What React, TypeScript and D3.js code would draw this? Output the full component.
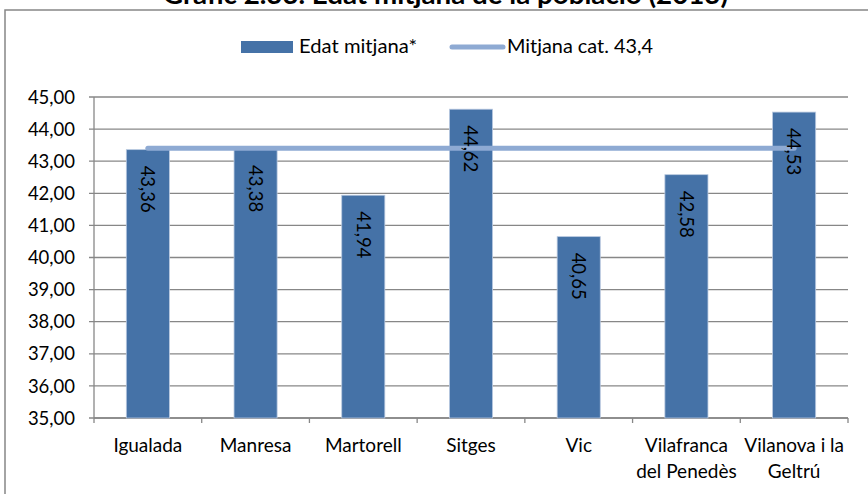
import React from "react";
import * as d3 from "d3";

const categories: string[][] = [
  ["Igualada"],
  ["Manresa"],
  ["Martorell"],
  ["Sitges"],
  ["Vic"],
  ["Vilafranca", "del Penedès"],
  ["Vilanova i la", "Geltrú"],
];
const values: number[] = [43.36, 43.38, 41.94, 44.62, 40.65, 42.58, 44.53];
const catAverage: number[] = [43.4, 43.4, 43.4, 43.4, 43.4, 43.4, 43.4];
const yTicks: number[] = [35, 36, 37, 38, 39, 40, 41, 42, 43, 44, 45];
const title = "Gràfic 2.33. Edat mitjana de la població (2013)";
const legendBar = "Edat mitjana*";
const legendLine = "Mitjana cat. 43,4";

const W = 868;
const H = 494;
const FONT = "Lato, 'Open Sans', sans-serif";
const BAR = "#4572a7";
const LINE = "#8eaad3";
const GRID = "#878787";

export default function App() {
  const left = 94, right = 848, top = 97, bottom = 418;
  const x = d3.scaleBand<number>().domain(d3.range(values.length)).range([left, right]).paddingInner(0.6).paddingOuter(0.3);
  const xOuter = d3.scaleBand<number>().domain(d3.range(values.length)).range([left, right]);
  const y = d3.scaleLinear().domain([35, 45]).range([bottom, top]);
  const fmt = (v: number) => d3.format(".2f")(v).replace(".", ",");
  const line = d3.line<number>().x((_, i) => xOuter(i)! + xOuter.bandwidth() / 2).y((d) => y(d));

  return (
    <svg width={W} height={H} style={{ position: "absolute", left: 0, top: 0, background: "#fff" }} fontFamily={FONT}>
      <rect x={5} y={10} width={W + 10} height={H + 10} fill="#fff" stroke={GRID} strokeWidth={1.5} />
      <text x={163} y={4} fontWeight="bold" fontSize={27} fill="#000" textLength={565} lengthAdjust="spacingAndGlyphs">{title}</text>
      {/* legend */}
      <rect x={241} y={41} width={52} height={12} fill={BAR} />
      <text x={299} y={53} fontSize={19} fill="#000" textLength={118} lengthAdjust="spacingAndGlyphs">{legendBar}</text>
      <line x1={452} x2={503} y1={47} y2={47} stroke={LINE} strokeWidth={5} strokeLinecap="round" />
      <text x={507} y={53} fontSize={19} fill="#000" textLength={146} lengthAdjust="spacingAndGlyphs">{legendLine}</text>
      {/* grid */}
      {yTicks.map((t) => (
        <g key={t}>
          <line x1={left - 5} x2={right} y1={y(t)} y2={y(t)} stroke={GRID} strokeWidth={1.3} />
          <text x={75} y={y(t)} dy="0.36em" textAnchor="end" fontSize={18.5} fill="#000">{fmt(t)}</text>
        </g>
      ))}
      <line x1={left} x2={left} y1={top} y2={bottom} stroke={GRID} strokeWidth={1.3} />
      <line x1={left} x2={right} y1={bottom} y2={bottom} stroke={GRID} strokeWidth={1.3} />
      {d3.range(values.length + 1).map((i) => {
        const xx = left + i * xOuter.bandwidth();
        return <line key={i} x1={xx} x2={xx} y1={bottom} y2={bottom + 5} stroke={GRID} strokeWidth={1.3} />;
      })}
      {/* bars */}
      {values.map((v, i) => (
        <rect key={i} x={x(i)} y={y(v)} width={x.bandwidth()} height={bottom - y(v)} fill={BAR} stroke="#b9c9e0" strokeWidth={0.8} />
      ))}
      <path d={line(catAverage) || ""} fill="none" stroke={LINE} strokeWidth={5} strokeLinecap="round" />
      {values.map((v, i) => {
        const cx = x(i)! + x.bandwidth() / 2;
        const ty = y(v) + 16;
        return (
          <text key={i} transform={`translate(${cx},${ty}) rotate(90)`} dy="0.36em" fontSize={18.5} fill="#000">{fmt(v)}</text>
        );
      })}
      {categories.map((lines, i) => {
        const cx = xOuter(i)! + xOuter.bandwidth() / 2;
        return (
          <text key={i} x={cx} y={452} textAnchor="middle" fontSize={19} fill="#000">
            {lines.map((l, j) => (
              <tspan key={j} x={cx} dy={j === 0 ? 0 : 26}>{l}</tspan>
            ))}
          </text>
        );
      })}
    </svg>
  );
}
